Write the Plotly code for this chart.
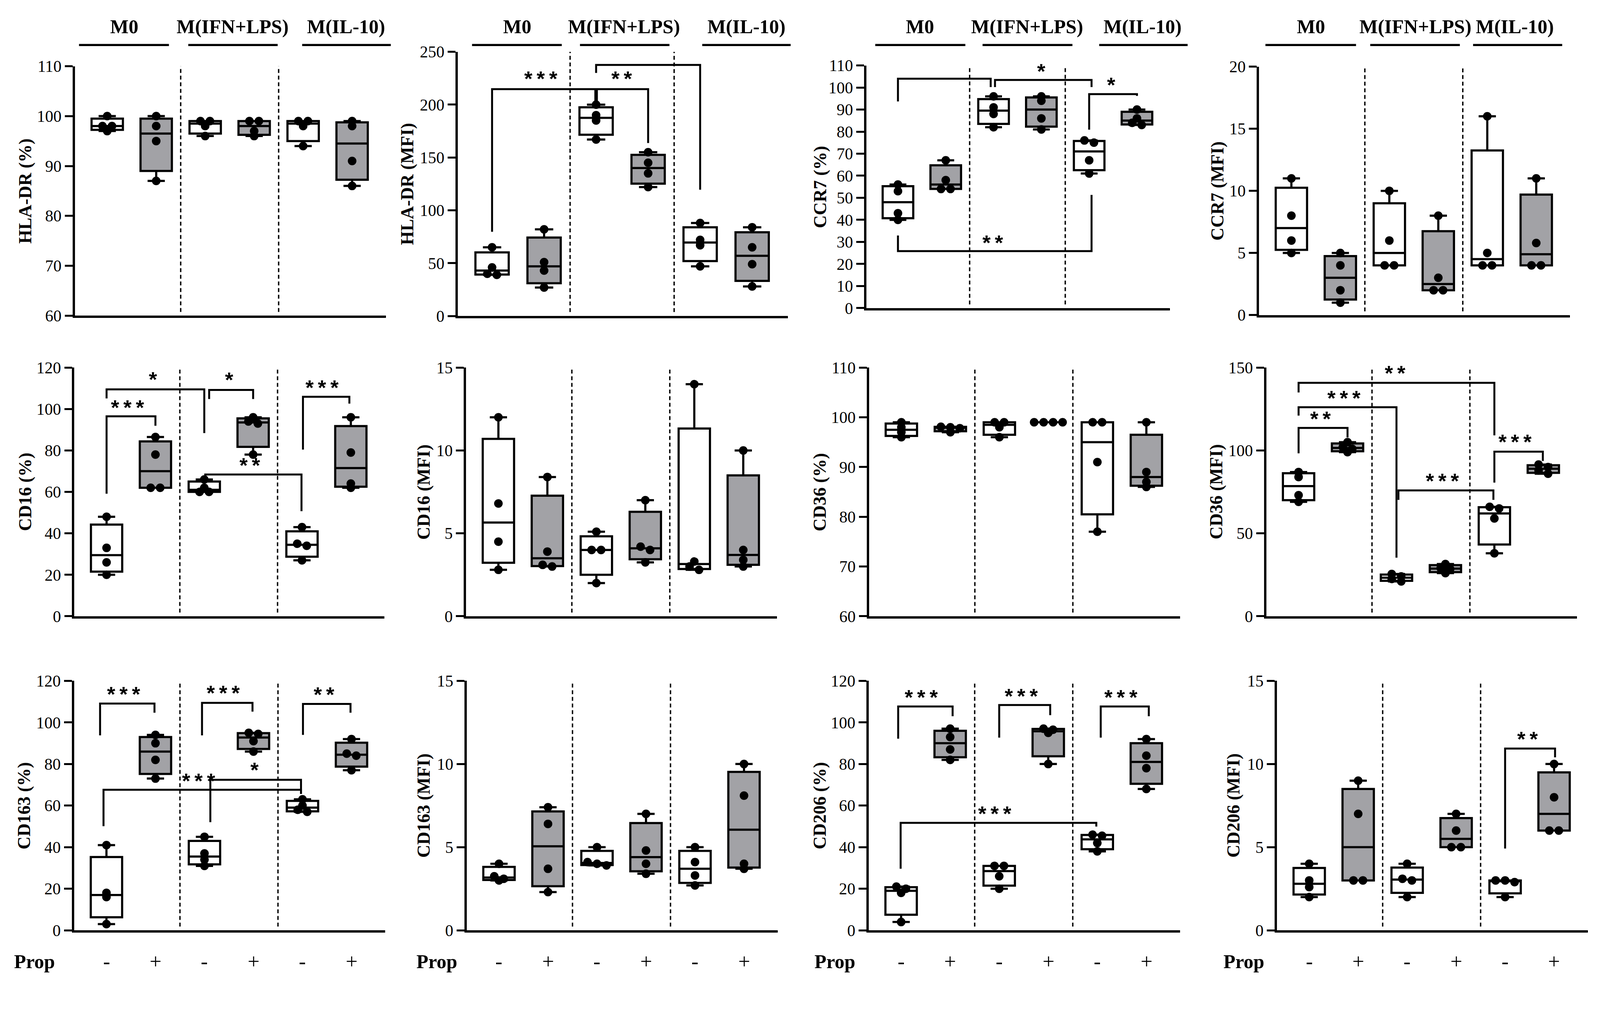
import math
import plotly.graph_objects as go

# reference frame used for positioning (fractions of the page)
W, H = 4219, 2599
Y_OFF, Y_STRETCH = 22.0, 1.012   # measured offset of the rendered page, compensated below

# ---------------- data ----------------
GROUPS = ["M0", "M(IFN+LPS)", "M(IL-10)"]
PROP_LABELS = ["-", "+", "-", "+", "-", "+"]
# box order: M0 -, M0 +, M(IFN+LPS) -, M(IFN+LPS) +, M(IL-10) -, M(IL-10) +
HLA_DR_PCT = [[100, 98, 98, 97], [100, 98, 95, 87], [99, 99, 98, 96],
              [99, 99, 97, 96], [99, 99, 98, 94], [99, 98, 91, 86]]
HLA_DR_MFI = [[65, 46, 40, 39], [82, 51, 43, 27], [200, 190, 185, 167],
              [155, 145, 135, 122], [88, 72, 67, 47], [84, 65, 49, 28]]
CCR7_PCT = [[56, 53, 43, 40], [67, 58, 54, 54], [96, 91, 88, 82],
            [96, 94, 86, 81], [76, 75, 67, 61], [90, 86, 84, 83]]
CCR7_MFI = [[11, 8, 6, 5], [5, 4, 2, 1], [10, 6, 4, 4],
            [8, 3, 2, 2], [16, 5, 4, 4], [11, 5.8, 4, 4]]
CD16_PCT = [[48, 33, 26, 20], [86.5, 78, 62, 62], [66, 62, 60, 60],
            [96, 94, 93, 78], [43, 35, 34, 27], [96, 79, 64, 62]]
CD16_MFI = [[12, 6.8, 4.5, 2.8], [8.4, 3.9, 3.1, 3.0], [5.1, 4, 4, 2],
            [7, 4.2, 4, 3.25], [14, 3.3, 3.0, 2.8], [10, 4, 3.4, 3.0]]
CD36_PCT = [[99, 98, 97, 96], [98.1, 98, 97.8, 97], [99, 99, 98, 96],
            [99, 99, 99, 99], [99, 99, 91, 77], [99, 89, 87, 86]]
CD36_MFI = [[87, 84, 73, 69], [105, 102, 101, 99], [25.5, 24, 22.5, 21],
            [31.5, 29, 28.5, 26], [66, 65, 59, 38], [91.5, 90, 88, 86]]
CD163_PCT = [[41, 18, 16, 3], [94, 90, 82, 73], [45, 37, 34, 31],
             [95, 94.5, 91, 86], [63, 60, 58, 57], [92, 85, 84, 77]]
CD163_MFI = [[4, 3.25, 3.1, 3.0], [7.4, 6.4, 3.7, 2.3], [5, 4.1, 4, 3.9],
             [7, 4.8, 4, 3.4], [5, 4.1, 3.3, 2.7], [10, 8.1, 4.0, 3.7]]
CD206_PCT = [[21, 20, 18, 4], [97, 93, 87, 82], [31, 31, 26, 20],
             [97, 96.5, 95, 80], [46, 45.5, 42, 38], [92, 84, 78, 68]]
CD206_MFI = [[4, 3, 2.6, 2], [9, 7, 3, 3], [4, 3.1, 3.0, 2.0],
             [7, 6, 5, 5], [3, 3, 2.9, 2], [10, 8, 6, 6]]

# significance brackets: (path points [(x, y), ...], label, label_x, label_y)
BR_HLA_DR_MFI = [([(0, 79.7), (0, 214.7), (3, 214.7), (3, 163.7)], "***", 0.94, 229),
                 ([(2, 230), (2, 237.6), (4, 237.6), (4, 119.5)], "**", 2.96, 252),
                 ([(2, 214.7), (2, 203)], "**", 2.49, 229)]
BR_CCR7_PCT = [([(0, 93.7), (0, 104), (1.94, 104), (1.94, 100.2)], "***", 0.89, 110.2),
               ([(2.03, 100.2), (2.03, 103.4), (4.05, 103.4), (4.05, 100.2)], "*", 3.0, 109.5),
               ([(4, 80.9), (4, 97), (5, 97), (5, 96.2)], "*", 4.46, 103.3),
               ([(0, 32.9), (0, 25.8), (4.05, 25.8), (4.05, 51.3)], "**", 1.98, 31.9)]
BR_CD16_PCT = [([(0, 59.1), (0, 96.5), (1, 96.5), (1, 91.9)], "***", 0.43, 103.1),
               ([(0, 105.1), (0, 109.5), (2, 109.5), (2, 88.4)], "*", 0.95, 116.7),
               ([(2.1, 104.8), (2.1, 109.2), (3, 109.2), (3, 104.8)], "*", 2.51, 116.4),
               ([(4.02, 80.4), (4.02, 105.9), (4.97, 105.9), (4.97, 102.6)], "***", 4.41, 112.7),
               ([(2.02, 67), (2.02, 68.4), (3.99, 68.4), (3.99, 50.7)], "**", 2.93, 75.2)]
BR_CD36_MFI = [([(0, 135), (0, 140.8), (4, 140.8), (4, 109.1)], "**", 1.97, 149.5),
               ([(0, 121), (0, 126.1), (2, 126.1), (2, 35.3)], "***", 0.93, 134.4),
               ([(0, 98.3), (0, 113.6), (1, 113.6), (1, 107.8)], "**", 0.45, 122),
               ([(2.04, 70.2), (2.04, 75.9), (3.98, 75.9), (3.98, 70.2)], "***", 2.94, 84.5),
               ([(4, 80.6), (4, 99.3), (4.99, 99.3), (4.99, 93.7)], "***", 4.42, 108.1)]
BR_CD163_PCT = [([(-0.13, 93.8), (-0.13, 109.1), (0.98, 109.1), (0.98, 104.7)], "***", 0.35, 116),
                ([(1.95, 93.8), (1.95, 109.4), (2.98, 109.4), (2.98, 105.2)], "***", 2.38, 116.6),
                ([(4.01, 94), (4.01, 108.9), (4.98, 108.9), (4.98, 104.7)], "**", 4.44, 115.8),
                ([(-0.06, 50.1), (-0.06, 67.6), (3.97, 67.6), (3.97, 65.6)], "***", 1.88, 74.2),
                ([(2.12, 52), (2.12, 72.4), (3.97, 72.4), (3.97, 65.6)], "*", 3.02, 79.5)]
BR_CD206_PCT = [([(-0.06, 92.2), (-0.06, 107.7), (1.05, 107.7), (1.05, 103)], "***", 0.41, 114.4),
                ([(2.0, 92.7), (2.0, 108.4), (3.04, 108.4), (3.04, 103.5)], "***", 2.45, 115),
                ([(4.07, 92.7), (4.07, 107.7), (5.05, 107.7), (5.05, 103)], "***", 4.48, 114.4),
                ([(-0.01, 29.6), (-0.01, 51.7), (3.98, 51.7), (3.98, 49.9)], "***", 1.91, 58.4)]
BR_CD206_MFI = [([(4.0, 4.92), (4.0, 10.93), (5.02, 10.93), (5.02, 10.4)], "**", 4.46, 11.8)]

# ---------------- layout helpers ----------------
XMIN, XMAX = -0.66, 5.69
SERIF = "Liberation Serif"
SANS = "Liberation Sans"
GRAY = "#a2a2a6"
LW = 5.5

panels = [
    dict(d=HLA_DR_PCT, t="HLA-DR (%)", yr=(60, 110), dt=10, px=(197.5, 1017.6, 174, 832), tx=67,
         br=[], hd=[(-0.576, 1.26, 0.35), (1.655, 3.48, 2.56), (3.98, 5.79, 4.88)]),
    dict(d=HLA_DR_MFI, t="HLA-DR (MFI)", yr=(0, 250), dt=50, px=(1207, 2078, 136, 833), tx=1074,
         br=BR_HLA_DR_MFI, hd=[(-0.385, 1.34, 0.485), (1.69, 3.41, 2.54), (4.04, 5.74, 4.89)]),
    dict(d=CCR7_PCT, t="CCR7 (%)", yr=(0, 110), dt=10, px=(2284.6, 3085, 172, 812), tx=2162,
         br=BR_CCR7_PCT, hd=[(-0.475, 1.41, 0.46), (1.77, 3.65, 2.70), (4.21, 6.06, 5.12)]),
    dict(d=CCR7_MFI, t="CCR7 (MFI)", yr=(0, 20), dt=5, px=(3320, 4140, 175, 830.5), tx=3210,
         br=[], hd=[(-0.53, 1.32, 0.40), (1.61, 3.44, 2.53), (3.71, 5.53, 4.56)]),
    dict(d=CD16_PCT, t="CD16 (%)", yr=(0, 120), dt=20, px=(196, 1014, 969, 1625), tx=67,
         br=BR_CD16_PCT, hd=None),
    dict(d=CD16_MFI, t="CD16 (MFI)", yr=(0, 15), dt=5, px=(1229, 2049, 969, 1625), tx=1117,
         br=[], hd=None),
    dict(d=CD36_PCT, t="CD36 (%)", yr=(60, 110), dt=10, px=(2291.5, 3112, 969, 1625), tx=2162,
         br=[], hd=None),
    dict(d=CD36_MFI, t="CD36 (MFI)", yr=(0, 150), dt=50, px=(3339, 4158.6, 969, 1625), tx=3207,
         br=BR_CD36_MFI, hd=None),
    dict(d=CD163_PCT, t="CD163 (%)", yr=(0, 120), dt=20, px=(195.4, 1016, 1795.5, 2453.5), tx=64,
         br=BR_CD163_PCT, hd=None, prop=91),
    dict(d=CD163_MFI, t="CD163 (MFI)", yr=(0, 15), dt=5, px=(1230.5, 2051, 1795.5, 2453.5), tx=1117,
         br=[], hd=None, prop=1152),
    dict(d=CD206_PCT, t="CD206 (%)", yr=(0, 120), dt=20, px=(2290.8, 3112, 1795.5, 2453.5), tx=2162,
         br=BR_CD206_PCT, hd=None, prop=2202),
    dict(d=CD206_MFI, t="CD206 (MFI)", yr=(0, 15), dt=5, px=(3367, 4187, 1795.5, 2453.5), tx=3253,
         br=BR_CD206_MFI, hd=None, prop=3280),
]


def fy(px):
    """page-pixel row (top = 0) -> paper y fraction, with render-offset compensation"""
    return 1 - ((px - Y_OFF) / Y_STRETCH) / H


def gp_quant(vals, p):
    s = sorted(vals)
    n = len(s)
    pos = (n + 1) * p
    lo = int(math.floor(pos))
    fr = pos - lo
    if lo < 1:
        return s[0]
    if lo >= n:
        return s[-1]
    return s[lo - 1] + fr * (s[lo] - s[lo - 1])


def swarm(vals, ypxu, xpxu, thr=10.0, sep=25.0):
    order = sorted(range(len(vals)), key=lambda i: -vals[i])
    groups = []
    for i in order:
        if groups and (vals[groups[-1][0]] - vals[i]) * ypxu < thr:
            groups[-1].append(i)
        else:
            groups.append([i])
    offs = [0.0] * len(vals)
    for g in groups:
        n = len(g)
        for k, i in enumerate(g):
            offs[i] = (k - (n - 1) / 2.0) * sep / xpxu
    return offs


def stars(lab):
    return "\u2009".join(lab)


fig = go.Figure()
layout = dict(autosize=True, margin=dict(l=0, r=0, t=0, b=0, pad=0),
              paper_bgcolor="white", plot_bgcolor="white", showlegend=False)
shapes = []
annotations = []

for i, p in enumerate(panels, start=1):
    sfx = "" if i == 1 else str(i)
    xa, ya = f"x{sfx}", f"y{sfx}"
    l, r, t, b = p["px"]
    y0, y1 = p["yr"]
    xpxu = (r - l) / (XMAX - XMIN)
    ypxu = (b - t) / (y1 - y0)

    layout[f"xaxis{sfx}"] = dict(domain=[l / W, r / W], range=[XMIN, XMAX], type="linear",
                                 showline=True, linewidth=5.5, linecolor="black",
                                 showticklabels=False, ticks="", showgrid=False,
                                 zeroline=False, anchor=ya, fixedrange=True)
    layout[f"yaxis{sfx}"] = dict(domain=[fy(b), fy(t)], range=[y0, y1],
                                 tickmode="linear", tick0=y0, dtick=p["dt"],
                                 showline=True, linewidth=5.5, linecolor="black",
                                 ticks="outside", ticklen=20, tickwidth=5, tickcolor="black",
                                 tickfont=dict(family=SERIF, size=42, color="black"),
                                 showgrid=False, zeroline=False, anchor=xa, fixedrange=True)

    data = p["d"]
    for idxs, fill in (([0, 2, 4], "white"), ([1, 3, 5], GRAY)):
        fig.add_trace(go.Box(
            x=idxs,
            q1=[gp_quant(data[k], 0.25) for k in idxs],
            median=[gp_quant(data[k], 0.5) for k in idxs],
            q3=[gp_quant(data[k], 0.75) for k in idxs],
            lowerfence=[min(data[k]) for k in idxs],
            upperfence=[max(data[k]) for k in idxs],
            width=0.64, whiskerwidth=0.55, fillcolor=fill,
            line=dict(color="black", width=LW), boxpoints=False,
            hoverinfo="skip", xaxis=xa, yaxis=ya))

    px_x, px_y = [], []
    for k, vals in enumerate(data):
        offs = swarm(vals, ypxu, xpxu)
        for v, o in zip(vals, offs):
            px_x.append(k + o)
            px_y.append(v)
    fig.add_trace(go.Scatter(x=px_x, y=px_y, mode="markers",
                             marker=dict(size=22, color="black"),
                             hoverinfo="skip", xaxis=xa, yaxis=ya))

    for xv in (1.5, 3.5):
        shapes.append(dict(type="line", xref=xa, yref=f"{ya} domain", x0=xv, x1=xv,
                           y0=0.015, y1=1, line=dict(color="black", width=3.5, dash="10px,7px")))

    for pts, lab, lx, ly in p["br"]:
        path = "M " + " L ".join(f"{x},{y}" for x, y in pts)
        wid = 9 if len(pts) == 2 else 5
        shapes.append(dict(type="path", path=path, xref=xa, yref=ya,
                           line=dict(color="black", width=wid)))
        annotations.append(dict(text=f"<b>{stars(lab)}</b>", x=lx, y=ly, xref=xa, yref=ya,
                                showarrow=False, xanchor="center", yanchor="middle", yshift=-12,
                                font=dict(family=SANS, size=54, color="black")))

    annotations.append(dict(text=f"<b>{p['t']}</b>", x=p["tx"] / W, y=fy((t + b) / 2),
                            xref="paper", yref="paper", textangle=-90, showarrow=False,
                            xanchor="center", yanchor="middle",
                            font=dict(family=SERIF, size=46, color="black")))

    def to_paper(xv, l=l, xpxu=xpxu):
        return (l + (xv - XMIN) * xpxu) / W

    if p["hd"]:
        for (xs, xe, xt), g in zip(p["hd"], GROUPS):
            shapes.append(dict(type="line", xref="paper", yref="paper",
                               x0=to_paper(xs), x1=to_paper(xe),
                               y0=fy(118), y1=fy(118),
                               line=dict(color="black", width=5.5)))
            annotations.append(dict(text=f"<b>{g}</b>", x=to_paper(xt), y=fy(69),
                                    xref="paper", yref="paper", showarrow=False,
                                    xanchor="center", yanchor="middle",
                                    font=dict(family=SERIF, size=50, color="black")))

    if "prop" in p:
        annotations.append(dict(text="<b>Prop</b>", x=p["prop"] / W, y=fy(2536),
                                xref="paper", yref="paper", showarrow=False,
                                xanchor="center", yanchor="middle",
                                font=dict(family=SERIF, size=50, color="black")))
        for k, lab in enumerate(PROP_LABELS):
            annotations.append(dict(text=lab, x=k, y=fy(2536), xref=xa, yref="paper",
                                    showarrow=False, xanchor="center", yanchor="middle",
                                    font=dict(family=SERIF, size=54, color="black")))

layout["shapes"] = shapes
layout["annotations"] = annotations
fig.update_layout(**layout)
# fill the whole browser viewport, independent of body margins
fig.write_html("out.html",
               default_width="100vw;position:fixed;left:0;top:0",
               default_height="100vh",
               config={"responsive": True, "displayModeBar": False})
